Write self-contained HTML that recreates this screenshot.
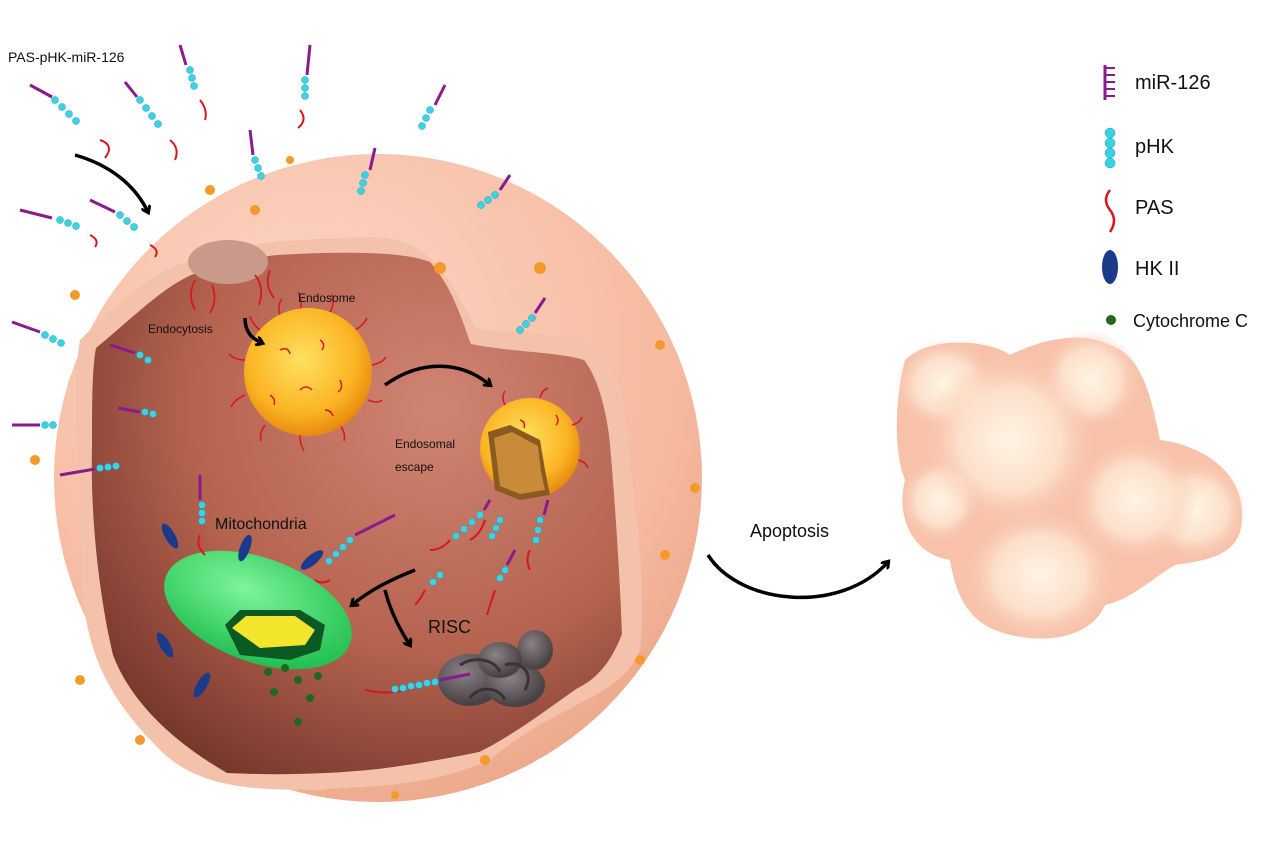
<!DOCTYPE html>
<html><head><meta charset="utf-8"><style>
html,body{margin:0;padding:0;background:#fff;}
svg{display:block;font-family:"Liberation Sans",sans-serif;}
</style></head><body>
<svg width="1280" height="853" viewBox="0 0 1280 853" xmlns="http://www.w3.org/2000/svg">
<defs>
<radialGradient id="cell" cx="0.4" cy="0.3" r="0.8">
<stop offset="0" stop-color="#fcd8c6"/><stop offset="0.7" stop-color="#f6baa0"/><stop offset="1" stop-color="#e9a283"/></radialGradient>
<radialGradient id="inner" cx="0.65" cy="0.3" r="0.85">
<stop offset="0" stop-color="#d08473"/><stop offset="0.55" stop-color="#b4634f"/><stop offset="1" stop-color="#6e3027"/></radialGradient>
<radialGradient id="yel" cx="0.45" cy="0.4" r="0.6">
<stop offset="0" stop-color="#ffe060"/><stop offset="0.7" stop-color="#fbb524"/><stop offset="1" stop-color="#e88a10"/></radialGradient>
<radialGradient id="grn" cx="0.4" cy="0.35" r="0.7">
<stop offset="0" stop-color="#7ef59a"/><stop offset="1" stop-color="#1ebd4e"/></radialGradient>
<radialGradient id="lobe" cx="0.5" cy="0.5" r="0.5">
<stop offset="0" stop-color="#fff5e4" stop-opacity="1"/><stop offset="0.6" stop-color="#fde3cf" stop-opacity="0.9"/><stop offset="1" stop-color="#f9c8b0" stop-opacity="0"/></radialGradient>
<radialGradient id="gray" cx="0.4" cy="0.35" r="0.6">
<stop offset="0" stop-color="#8a8286"/><stop offset="1" stop-color="#4a4346"/></radialGradient>
<marker id="ah" markerWidth="10" markerHeight="10" refX="6" refY="5" orient="auto" markerUnits="userSpaceOnUse">
<path d="M0,0 L7,5 L0,10" fill="none" stroke="#000" stroke-width="3"/></marker>
</defs>

<circle cx="378" cy="478" r="324" fill="url(#cell)"/>
<path d="M80,340 C120,300 160,265 200,258 C250,240 300,240 340,238 C400,236 430,232 475,328 C520,335 570,330 600,350 C625,380 628,430 630,460 C640,540 645,600 640,650 C620,700 560,700 490,760 C420,790 360,785 320,790 C260,790 200,790 160,750 C110,700 80,650 82,560 C80,480 70,400 80,340 Z" fill="#f4c2ab"/>
<path d="M96,348 C130,320 160,290 189,276 C220,262 250,258 277,255 C330,252 400,250 430,262 C455,290 465,330 471,344 C510,352 560,352 584,360 C600,380 608,420 610,445 C615,500 620,580 622,634 C610,665 595,680 576,689 C540,715 505,740 479,752 C440,760 410,765 378,769 C320,775 270,775 227,773 C170,740 130,700 113,655 C100,600 90,520 92,445 C92,400 92,370 96,348 Z" fill="url(#inner)"/>

<ellipse cx="228" cy="262" rx="40" ry="22" fill="#c99a8c"/>
<g stroke="#d8181e" stroke-width="1.8" fill="none">
<path d="M195,280 q-8,15 0,30"/><path d="M212,285 q6,15 -2,28"/><path d="M255,275 q10,12 4,30"/><path d="M270,270 q-6,15 4,28"/>
</g>

<g stroke="#d8181e" stroke-width="1.5" fill="none">
<path d="M300,310 q3,-10 -2,-18"/><path d="M330,312 q5,-8 2,-18"/><path d="M355,330 q8,-4 12,-12"/><path d="M260,330 q-8,-6 -10,-14"/><path d="M245,360 q-10,0 -16,-6"/><path d="M245,395 q-10,4 -14,12"/><path d="M265,425 q-6,8 -4,16"/><path d="M300,435 q0,10 4,16"/><path d="M340,425 q6,8 4,16"/><path d="M368,400 q10,4 14,0"/><path d="M372,365 q10,-2 14,-8"/><path d="M280,315 q-3,-10 2,-16"/>
</g>
<circle cx="308" cy="372" r="64" fill="url(#yel)"/>
<g stroke="#d8181e" stroke-width="1.5" fill="none">
<path d="M280,350 q8,-4 10,4"/><path d="M320,340 q6,4 2,10"/><path d="M300,390 q6,-6 12,0"/><path d="M340,380 q4,8 -2,12"/><path d="M270,395 q6,4 4,10"/><path d="M325,410 q6,0 8,6"/>
</g>
<circle cx="530" cy="448" r="50" fill="url(#yel)"/>
<path d="M488,432 L510,425 L540,440 L545,470 L550,495 L520,500 L495,490 Z" fill="#8a5a20"/>
<path d="M494,438 L512,432 L538,446 L541,472 L545,490 L520,494 L500,486 Z" fill="#c98a3a"/>
<g stroke="#d8181e" stroke-width="1.5" fill="none">
<path d="M505,405 q-4,-8 0,-14"/><path d="M540,398 q2,-8 8,-10"/><path d="M572,425 q8,-2 10,-8"/><path d="M578,460 q8,2 10,8"/><path d="M520,420 q6,2 4,8"/><path d="M556,415 q4,6 0,10"/>
</g>

<ellipse cx="258" cy="610" rx="98" ry="52" transform="rotate(20 258 610)" fill="url(#grn)"/>
<path d="M225,625 L240,610 L300,610 L325,625 L320,650 L290,660 L240,655 Z" fill="#0b5a23"/>
<path d="M232,628 L246,616 L295,616 L315,630 L305,645 L260,648 Z" fill="#f2e52c"/>
<g fill="#1c6a1c"><circle cx="268" cy="672" r="4"/><circle cx="285" cy="668" r="4"/><circle cx="298" cy="680" r="4"/><circle cx="274" cy="692" r="4"/><circle cx="310" cy="698" r="4"/><circle cx="298" cy="722" r="4"/><circle cx="318" cy="676" r="4"/></g>
<g fill="#1a3a8a">
<ellipse cx="170" cy="536" rx="5" ry="14" transform="rotate(-30 170 536)"/>
<ellipse cx="245" cy="548" rx="5" ry="14" transform="rotate(20 245 548)"/>
<ellipse cx="312" cy="560" rx="5" ry="14" transform="rotate(50 312 560)"/>
<ellipse cx="165" cy="645" rx="5" ry="14" transform="rotate(-30 165 645)"/>
<ellipse cx="202" cy="685" rx="5" ry="14" transform="rotate(30 202 685)"/>
</g>

<g fill="url(#gray)">
<ellipse cx="470" cy="680" rx="32" ry="26"/>
<ellipse cx="515" cy="685" rx="30" ry="22"/>
<ellipse cx="535" cy="650" rx="18" ry="20"/>
<ellipse cx="500" cy="660" rx="22" ry="18"/>
</g>
<path d="M460,665 C475,655 495,660 500,672 M505,665 C520,660 535,672 525,690 M470,698 C480,684 500,688 505,700" stroke="#3a3335" stroke-width="3" fill="none"/>

<g stroke="#d8181e" stroke-width="2" fill="none">
<path d="M405,690 q-20,5 -40,0"/><path d="M100,140 q15,5 5,18"/><path d="M170,140 q10,8 5,20"/><path d="M200,100 q8,10 5,20"/><path d="M300,110 q8,10 -2,18"/>
<path d="M90,235 q10,5 5,12"/><path d="M150,245 q10,5 5,12"/><path d="M200,535 q-5,10 5,20"/><path d="M330,580 q-8,5 -15,0"/>
<path d="M450,540 q-8,10 -20,10"/><path d="M485,520 q-5,15 -15,20"/><path d="M530,550 q-5,10 0,20"/><path d="M425,590 q-5,10 -10,15"/><path d="M495,590 q-5,15 -8,25"/>
</g>
<g fill="#3cd2e6" stroke="#1b9fb5" stroke-width="0.5">
<circle cx="395" cy="689" r="3.5"/><circle cx="403" cy="688" r="3.5"/><circle cx="411" cy="686" r="3.5"/><circle cx="419" cy="685" r="3.5"/><circle cx="427" cy="683" r="3.5"/><circle cx="435" cy="682" r="3.5"/>
<circle cx="55" cy="100" r="3.5"/><circle cx="62" cy="107" r="3.5"/><circle cx="69" cy="114" r="3.5"/><circle cx="76" cy="121" r="3.5"/>
<circle cx="140" cy="100" r="3.5"/><circle cx="146" cy="108" r="3.5"/><circle cx="152" cy="116" r="3.5"/><circle cx="158" cy="124" r="3.5"/>
<circle cx="190" cy="70" r="3.5"/><circle cx="192" cy="78" r="3.5"/><circle cx="194" cy="86" r="3.5"/>
<circle cx="305" cy="80" r="3.5"/><circle cx="305" cy="88" r="3.5"/><circle cx="305" cy="96" r="3.5"/>
<circle cx="430" cy="110" r="3.5"/><circle cx="426" cy="118" r="3.5"/><circle cx="422" cy="126" r="3.5"/>
<circle cx="255" cy="160" r="3.5"/><circle cx="258" cy="168" r="3.5"/><circle cx="261" cy="176" r="3.5"/>
<circle cx="365" cy="175" r="3.5"/><circle cx="363" cy="183" r="3.5"/><circle cx="361" cy="191" r="3.5"/>
<circle cx="495" cy="195" r="3.5"/><circle cx="488" cy="200" r="3.5"/><circle cx="481" cy="205" r="3.5"/>
<circle cx="60" cy="220" r="3.5"/><circle cx="68" cy="223" r="3.5"/><circle cx="76" cy="226" r="3.5"/>
<circle cx="120" cy="215" r="3.5"/><circle cx="127" cy="221" r="3.5"/><circle cx="134" cy="227" r="3.5"/>
<circle cx="45" cy="335" r="3.5"/><circle cx="53" cy="339" r="3.5"/><circle cx="61" cy="343" r="3.5"/>
<circle cx="45" cy="425" r="3.5"/><circle cx="53" cy="425" r="3.5"/>
<circle cx="100" cy="468" r="3.5"/><circle cx="108" cy="467" r="3.5"/><circle cx="116" cy="466" r="3.5"/>
<circle cx="140" cy="355" r="3.5"/><circle cx="148" cy="360" r="3.5"/>
<circle cx="145" cy="412" r="3.5"/><circle cx="153" cy="414" r="3.5"/>
<circle cx="202" cy="505" r="3.5"/><circle cx="202" cy="513" r="3.5"/><circle cx="202" cy="521" r="3.5"/>
<circle cx="350" cy="540" r="3.5"/><circle cx="343" cy="547" r="3.5"/><circle cx="336" cy="554" r="3.5"/><circle cx="329" cy="561" r="3.5"/>
<circle cx="532" cy="318" r="3.5"/><circle cx="526" cy="324" r="3.5"/><circle cx="520" cy="330" r="3.5"/>
<circle cx="480" cy="515" r="3.5"/><circle cx="472" cy="522" r="3.5"/><circle cx="464" cy="529" r="3.5"/><circle cx="456" cy="536" r="3.5"/>
<circle cx="500" cy="520" r="3.5"/><circle cx="496" cy="528" r="3.5"/><circle cx="492" cy="536" r="3.5"/>
<circle cx="540" cy="520" r="3.5"/><circle cx="538" cy="530" r="3.5"/><circle cx="536" cy="540" r="3.5"/>
<circle cx="505" cy="570" r="3.5"/><circle cx="500" cy="578" r="3.5"/>
<circle cx="440" cy="575" r="3.5"/><circle cx="433" cy="582" r="3.5"/>
</g>
<g stroke="#8b1a8b" stroke-width="3" fill="none">
<path d="M440,680 l30,-6"/><path d="M30,85 l22,12"/><path d="M125,82 l12,15"/><path d="M180,45 l6,20"/><path d="M310,45 l-3,30"/><path d="M445,85 l-10,20"/>
<path d="M250,130 l3,25"/><path d="M375,148 l-5,22"/><path d="M510,175 l-10,15"/><path d="M20,210 l32,8"/><path d="M90,200 l25,12"/>
<path d="M12,322 l28,10"/><path d="M12,425 l28,0"/><path d="M60,475 l35,-6"/><path d="M110,345 l25,8"/><path d="M118,408 l22,4"/>
<path d="M200,475 l0,25"/><path d="M395,515 l-40,20"/><path d="M545,298 l-10,15"/><path d="M490,500 l-6,10"/><path d="M548,500 l-4,15"/><path d="M515,550 l-8,15"/>
</g>

<g fill="#f39a2a">
<circle cx="290" cy="160" r="4"/>
<circle cx="440" cy="268" r="6"/><circle cx="540" cy="268" r="6"/><circle cx="75" cy="295" r="5"/><circle cx="660" cy="345" r="5"/>
<circle cx="35" cy="460" r="5"/><circle cx="695" cy="488" r="5"/><circle cx="665" cy="555" r="5"/><circle cx="640" cy="660" r="5"/>
<circle cx="80" cy="680" r="5"/><circle cx="140" cy="740" r="5"/><circle cx="485" cy="760" r="5"/><circle cx="395" cy="795" r="4"/>
<circle cx="210" cy="190" r="5"/><circle cx="255" cy="210" r="5"/>
</g>

<g stroke="#000" stroke-width="3.5" fill="none">
<path d="M75,155 C110,165 135,185 148,212" marker-end="url(#ah)"/>
<path d="M245,318 C245,330 250,338 262,343" marker-end="url(#ah)"/>
<path d="M385,385 C420,360 460,360 490,385" marker-end="url(#ah)"/>
<path d="M415,570 C390,580 370,590 352,605" marker-end="url(#ah)"/>
<path d="M385,590 C390,610 400,630 410,645" marker-end="url(#ah)"/>
<path d="M708,555 C740,605 840,615 888,562" marker-end="url(#ah)"/>
</g>

<!-- apoptotic body -->
<path d="M905,360 C930,335 990,340 1010,355 C1040,340 1080,330 1110,345 C1140,355 1150,390 1160,440 C1200,445 1245,470 1242,520 C1240,555 1210,560 1175,565 C1150,580 1130,600 1105,605 C1090,640 1040,645 1000,632 C965,620 955,590 950,560 C915,555 895,520 905,480 C893,450 895,400 905,360 Z" fill="#f8c2aa"/>
<g fill="url(#lobe)">
<ellipse cx="945" cy="385" rx="50" ry="45"/>
<ellipse cx="1090" cy="380" rx="50" ry="50"/>
<ellipse cx="940" cy="500" rx="40" ry="42"/>
<ellipse cx="1195" cy="510" rx="52" ry="50"/>
<ellipse cx="1040" cy="575" rx="75" ry="65"/>
<ellipse cx="1135" cy="500" rx="62" ry="60"/>
<ellipse cx="1010" cy="440" rx="85" ry="85"/>
</g>

<g fill="#111">
<text x="8" y="62" font-size="14">PAS-pHK-miR-126</text>
<text x="298" y="302" font-size="12">Endosome</text>
<text x="148" y="333" font-size="12">Endocytosis</text>
<text x="395" y="448" font-size="12">Endosomal</text>
<text x="395" y="471" font-size="12">escape</text>
<text x="215" y="529" font-size="16">Mitochondria</text>
<text x="428" y="633" font-size="18">RISC</text>
<text x="750" y="537" font-size="18">Apoptosis</text>
</g>

<g>
<path d="M1105,65 v35" stroke="#8b1a8b" stroke-width="3"/>
<path d="M1105,68 h10 M1105,75 h10 M1105,82 h10 M1105,89 h10 M1105,96 h10" stroke="#8b1a8b" stroke-width="2"/>
<g fill="#3cd2e6" stroke="#1b9fb5" stroke-width="0.5"><circle cx="1110" cy="133" r="5"/><circle cx="1110" cy="143" r="5"/><circle cx="1110" cy="153" r="5"/><circle cx="1110" cy="163" r="5"/></g>
<path d="M1110,190 q-8,10 0,20 q8,10 0,22" stroke="#d8181e" stroke-width="2.5" fill="none"/>
<ellipse cx="1110" cy="267" rx="8" ry="17" fill="#1a3a8a"/>
<circle cx="1111" cy="320" r="5" fill="#1c6a1c"/>
<g fill="#111">
<text x="1135" y="89" font-size="20">miR-126</text>
<text x="1135" y="153" font-size="20">pHK</text>
<text x="1135" y="214" font-size="20">PAS</text>
<text x="1135" y="275" font-size="20">HK II</text>
<text x="1133" y="327" font-size="18">Cytochrome C</text>
</g>
</g>
</svg>
</body></html>
